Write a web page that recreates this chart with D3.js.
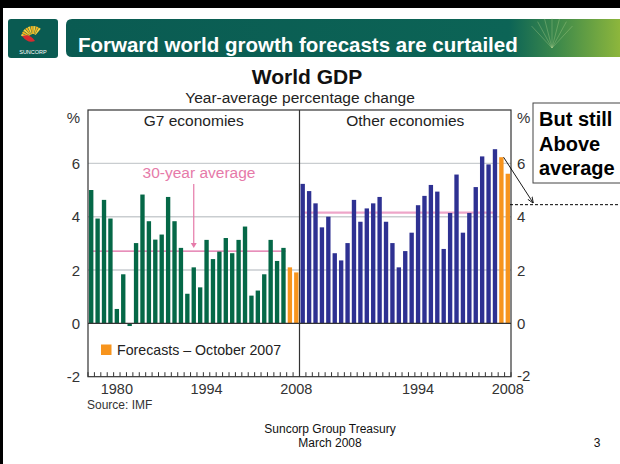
<!DOCTYPE html>
<html>
<head>
<meta charset="utf-8">
<script src="https://cdn.jsdelivr.net/npm/d3@7"></script>
<style>
  html, body { margin: 0; padding: 0; background: #fff; }
  svg { display: block; font-family: "Liberation Sans", Arial, sans-serif; }
</style>
</head>
<body>
<svg id="chart" width="620" height="464"></svg>
<script>
// Year-average GDP growth, per cent
const years = d3.range(1976, 2009);
const forecastYears = [2007, 2008];
const g7Growth = [5.0, 3.93, 4.63, 3.93, 0.54, 1.84, -0.1, 3.01, 4.83, 3.83, 3.14, 3.33, 4.74, 3.83, 2.83, 1.11,
                  2.1, 1.35, 3.13, 2.41, 2.69, 3.2, 2.63, 3.13, 3.63, 1.04, 1.23, 1.84, 3.13, 2.34, 2.83, 2.1, 1.91];
const otherGrowth = [5.23, 4.96, 4.5, 3.6, 4.0, 2.63, 2.36, 3.01, 4.63, 3.81, 4.31, 4.5, 4.74, 3.81, 3.01, 2.1,
                     2.71, 3.4, 4.43, 4.78, 5.19, 4.94, 2.79, 4.14, 5.58, 3.4, 4.14, 5.11, 6.26, 5.96, 6.53, 6.23, 5.61];
const averages = { g7: 2.71, other: 4.15 };
const averageSpan = [1976, 2006];
const calloutLevel = 4.45;
const yTicks = [-2, 0, 2, 4, 6];
const xTickLabelsLeft = [1980, 1994, 2008];
const xTickLabelsRight = [1994, 2008];
const panelTitles = ["G7 economies", "Other economies"];

const svg = d3.select("#chart");
const FONT = '"Liberation Sans", Arial, sans-serif';

// ---- slide frame ----
svg.append("rect").attr("x", 0).attr("y", 0).attr("width", 620).attr("height", 8).attr("fill", "#000");
svg.append("rect").attr("x", 0).attr("y", 0).attr("width", 3).attr("height", 464).attr("fill", "#000");

// ---- header banner ----
const defs = svg.append("defs");
const bannerGrad = defs.append("linearGradient").attr("id", "bannerGrad").attr("x1", "0%").attr("x2", "100%");
bannerGrad.append("stop").attr("offset", "0%").attr("stop-color", "#0a5b52");
bannerGrad.append("stop").attr("offset", "80%").attr("stop-color", "#0c6456");
bannerGrad.append("stop").attr("offset", "89%").attr("stop-color", "#3f8a4a");
bannerGrad.append("stop").attr("offset", "100%").attr("stop-color", "#8db63c");
svg.append("path")
  .attr("d", "M72,19 H620 V57 H72 Q66,57 66,51 V25 Q66,19 72,19 Z")
  .attr("fill", "url(#bannerGrad)");
// faint rays on the right of the banner
const rays = svg.append("g").attr("stroke", "#c4dd98").attr("stroke-opacity", 0.3).attr("stroke-width", 1);
d3.range(7).forEach(i => {
  const a = (i - 3) * 0.25;
  rays.append("line").attr("x1", 552).attr("y1", 48)
    .attr("x2", 552 - Math.sin(a) * 30).attr("y2", 48 - Math.cos(a) * 30);
});
svg.append("text").attr("x", 78).attr("y", 52)
  .attr("font-family", FONT).attr("font-weight", "bold").attr("font-size", 20.5)
  .attr("fill", "#fff").text("Forward world growth forecasts are curtailed");

// logo
svg.append("rect").attr("x", 8).attr("y", 19).attr("width", 50).attr("height", 39).attr("rx", 3).attr("fill", "#0a5b52");
const sun = svg.append("g").attr("transform", "translate(33,38)");
d3.range(9).forEach(i => {
  const a0 = -Math.PI * 0.95 + i * 0.24, a1 = a0 + 0.2;
  sun.append("path")
    .attr("d", d3.arc()({ innerRadius: 4, outerRadius: 12, startAngle: a0 + Math.PI / 2, endAngle: a1 + Math.PI / 2 }))
    .attr("fill", i % 2 ? "#f7b21b" : "#f4d03f");
});
sun.append("path").attr("d", "M-11,-2 Q-3,-5 2,3 Q-5,6 -11,-2 Z").attr("fill", "#d72a2f");
svg.append("text").attr("x", 33).attr("y", 54).attr("text-anchor", "middle")
  .attr("font-family", FONT).attr("font-size", 5.5).attr("fill", "#fff").text("SUNCORP");

// ---- chart titles ----
svg.append("text").attr("x", 307).attr("y", 84).attr("text-anchor", "middle")
  .attr("font-family", FONT).attr("font-weight", "bold").attr("font-size", 21).attr("fill", "#111")
  .text("World GDP");
svg.append("text").attr("x", 300).attr("y", 103).attr("text-anchor", "middle")
  .attr("font-family", FONT).attr("font-size", 15.5).attr("fill", "#222")
  .text("Year-average percentage change");

// ---- scales ----
const plotTop = 110, plotBottom = 376.7;
const leftX0 = 88, midX = 299.5, rightX1 = 511;
const y = d3.scaleLinear().domain([-2, 8]).range([plotBottom, plotTop]);
const xLeft = d3.scaleBand().domain(years).range([leftX0, midX]).paddingInner(0.32).paddingOuter(0.16);
const xRight = d3.scaleBand().domain(years).range([midX, rightX1]).paddingInner(0.32).paddingOuter(0.16);

const panels = [
  { x: xLeft, values: g7Growth, color: "#056847", avg: averages.g7, avgColor: "#df6aa3", avgWidth: 1.3,
    title: panelTitles[0], labels: xTickLabelsLeft },
  { x: xRight, values: otherGrowth, color: "#2e3192", avg: averages.other, avgColor: "#eea6c9", avgWidth: 2.2,
    title: panelTitles[1], labels: xTickLabelsRight }
];
const forecastColor = "#f7941d";

// gridlines
svg.append("g").selectAll("line").data(yTicks.filter(d => d > 0)).join("line")
  .attr("x1", leftX0).attr("x2", rightX1)
  .attr("y1", d => y(d)).attr("y2", d => y(d))
  .attr("stroke", "#c9cdd0").attr("stroke-width", 1.4);

panels.forEach(p => {
  const data = years.map((yr, i) => ({ year: yr, value: p.values[i] }));
  const step = p.x.step();
  // average line
  svg.append("line")
    .attr("x1", p.x(averageSpan[0]) + 1).attr("x2", p.x(averageSpan[1]) + p.x.bandwidth())
    .attr("y1", y(p.avg)).attr("y2", y(p.avg))
    .attr("stroke", p.avgColor).attr("stroke-width", p.avgWidth);
  // bars
  svg.append("g").selectAll("rect").data(data).join("rect")
    .attr("x", d => p.x(d.year))
    .attr("width", p.x.bandwidth())
    .attr("y", d => y(Math.max(0, d.value)))
    .attr("height", d => Math.abs(y(d.value) - y(0)))
    .attr("fill", d => forecastYears.includes(d.year) ? forecastColor : p.color);
  // bottom minor ticks at year boundaries
  const edges = years.map(yr => p.x(yr) - (step - p.x.bandwidth()) / 2).concat([p.x.range()[1]]);
  svg.append("g").selectAll("line").data(edges).join("line")
    .attr("x1", d => d).attr("x2", d => d)
    .attr("y1", plotBottom).attr("y2", plotBottom - 4.5)
    .attr("stroke", "#333").attr("stroke-width", 1);
  // year labels
  svg.append("g").selectAll("text").data(p.labels).join("text")
    .attr("x", d => p.x(d) + p.x.bandwidth() / 2).attr("y", 394)
    .attr("text-anchor", "middle").attr("font-family", FONT).attr("font-size", 14.5).attr("fill", "#333")
    .text(d => d);
  // panel title
  const [r0, r1] = p.x.range();
  svg.append("text").attr("x", (r0 + r1) / 2).attr("y", 126).attr("text-anchor", "middle")
    .attr("font-family", FONT).attr("font-size", 15.5).attr("fill", "#222").text(p.title);
});

// zero line and frame
svg.append("line").attr("x1", leftX0).attr("x2", rightX1).attr("y1", y(0)).attr("y2", y(0))
  .attr("stroke", "#333").attr("stroke-width", 1.2);
svg.append("rect").attr("x", leftX0).attr("y", plotTop).attr("width", rightX1 - leftX0).attr("height", plotBottom - plotTop)
  .attr("fill", "none").attr("stroke", "#333").attr("stroke-width", 1.2);
svg.append("line").attr("x1", midX).attr("x2", midX).attr("y1", plotTop).attr("y2", plotBottom)
  .attr("stroke", "#333").attr("stroke-width", 1.2);

// y tick labels, both sides
const yLabelAttrs = sel => sel.attr("font-family", FONT).attr("font-size", 15).attr("fill", "#333")
  .attr("dominant-baseline", "central");
svg.append("g").selectAll("text").data(yTicks).join("text")
  .attr("x", 80).attr("y", d => y(d)).attr("text-anchor", "end").call(yLabelAttrs).text(d => d);
svg.append("g").selectAll("text").data(yTicks).join("text")
  .attr("x", 517).attr("y", d => y(d) - (d === -2 ? 1 : 0)).attr("text-anchor", "start").call(yLabelAttrs).text(d => d);
svg.append("text").attr("x", 80).attr("y", 117).attr("text-anchor", "end").call(yLabelAttrs).text("%");
svg.append("text").attr("x", 517).attr("y", 117).attr("text-anchor", "start").call(yLabelAttrs).text("%");

// 30-year average annotation
const annX = xLeft(1992) + xLeft.bandwidth() / 2;
svg.append("text").attr("x", 199).attr("y", 178).attr("text-anchor", "middle")
  .attr("font-family", FONT).attr("font-size", 15.5).attr("fill", "#e67aa9").text("30-year average");
svg.append("line").attr("x1", annX).attr("x2", annX).attr("y1", 184).attr("y2", y(averages.g7) - 5)
  .attr("stroke", "#e67aa9").attr("stroke-width", 1.2);
svg.append("path")
  .attr("d", `M${annX - 3},${y(averages.g7) - 8} L${annX + 3},${y(averages.g7) - 8} L${annX},${y(averages.g7) - 3} Z`)
  .attr("fill", "#e67aa9");

// legend
svg.append("rect").attr("x", 101).attr("y", 344.5).attr("width", 10.5).attr("height", 10.5).attr("fill", forecastColor);
svg.append("text").attr("x", 117).attr("y", 355).attr("font-family", FONT).attr("font-size", 14.2).attr("fill", "#222")
  .text("Forecasts \u2013 October 2007");

// source
svg.append("text").attr("x", 87).attr("y", 409).attr("font-family", FONT).attr("font-size", 12).attr("fill", "#333")
  .text("Source: IMF");

// callout box
svg.append("rect").attr("x", 533).attr("y", 103).attr("width", 95).attr("height", 80)
  .attr("fill", "#fff").attr("stroke", "#444").attr("stroke-width", 1);
const callout = svg.append("text").attr("font-family", FONT).attr("font-weight", "bold").attr("font-size", 20).attr("fill", "#000");
[["But still", 126], ["Above", 151], ["average", 175]].forEach(([t, yy]) =>
  callout.append("tspan").attr("x", 539).attr("y", yy).text(t));

// arrow from the 2007 forecast bar to the dashed level line
defs.append("marker").attr("id", "arrowHead").attr("viewBox", "0 0 10 10").attr("refX", 9).attr("refY", 5)
  .attr("markerWidth", 7).attr("markerHeight", 7).attr("orient", "auto")
  .append("path").attr("d", "M0,1 L10,5 L0,9").attr("fill", "none").attr("stroke", "#000").attr("stroke-width", 1.3);
const i2007 = years.indexOf(2007);
svg.append("line")
  .attr("x1", xRight(2007) + xRight.bandwidth()).attr("y1", y(otherGrowth[i2007]))
  .attr("x2", 533).attr("y2", y(calloutLevel) - 2)
  .attr("stroke", "#000").attr("stroke-width", 0.9).attr("marker-end", "url(#arrowHead)");
svg.append("line").attr("x1", 510).attr("x2", 620).attr("y1", y(calloutLevel)).attr("y2", y(calloutLevel))
  .attr("stroke", "#000").attr("stroke-width", 1).attr("stroke-dasharray", "3,2");

// footer
svg.append("text").attr("x", 330).attr("y", 433).attr("text-anchor", "middle")
  .attr("font-family", FONT).attr("font-size", 12).attr("fill", "#111").text("Suncorp Group Treasury");
svg.append("text").attr("x", 330).attr("y", 447).attr("text-anchor", "middle")
  .attr("font-family", FONT).attr("font-size", 12).attr("fill", "#111").text("March 2008");
svg.append("text").attr("x", 597).attr("y", 447).attr("text-anchor", "middle")
  .attr("font-family", FONT).attr("font-size", 12).attr("fill", "#111").text("3");
</script>
</body>
</html>
